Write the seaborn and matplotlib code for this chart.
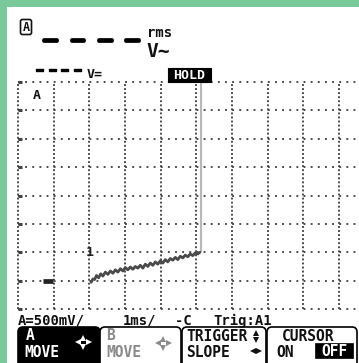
import matplotlib
matplotlib.use("Agg")
import matplotlib.pyplot as plt
import seaborn as sns
import pandas as pd
from matplotlib.patches import Rectangle, FancyBboxPatch
import matplotlib.patheffects as pe

# ---------------- data ----------------
TIME_DIVS = [-2, -1, 0, 1, 2, 3, 4, 5, 6, 7]            # ms (1 ms/div)
VOLT_DIVS = [-0.5, 0.0, 0.5, 1.0, 1.5, 2.0, 2.5, 3.0, 3.5]  # V (500 mV/div)
TRACE_T = [0.05, 0.10, 0.15, 0.20, 0.26, 0.32, 0.38, 0.45, 0.52, 0.59, 0.66,
           0.73, 0.80, 0.87, 0.94, 1.01, 1.08, 1.15, 1.22, 1.29, 1.36, 1.43,
           1.50, 1.57, 1.64, 1.71, 1.78, 1.85, 1.92, 1.99, 2.06, 2.13, 2.20,
           2.27, 2.34, 2.41, 2.48, 2.55, 2.62, 2.69, 2.76, 2.83, 2.90, 2.97,
           3.04, 3.10]
TRACE_V = [-0.03, 0.03, 0.02, 0.09, 0.05, 0.12, 0.08, 0.15, 0.11, 0.17, 0.13,
           0.19, 0.15, 0.21, 0.17, 0.23, 0.19, 0.24, 0.20, 0.25, 0.22, 0.27,
           0.22, 0.29, 0.25, 0.31, 0.27, 0.33, 0.29, 0.35, 0.31, 0.37, 0.33,
           0.39, 0.36, 0.41, 0.37, 0.43, 0.40, 0.45, 0.42, 0.47, 0.44, 0.49,
           0.47, 0.50]
CURSOR_T = 3.12
GROUND_T = -1.15
TRIG_T, TRIG_V = 0.0, 0.5
BOTTOM_LABELS = ["A=500mV/", "1ms/", "-C", "Trig:A1"]

# ---------------- style ----------------
sns.set_style("white")
plt.rcParams["font.family"] = ["DejaVu Sans"]
plt.rcParams["lines.scale_dashes"] = False
MONO = "DejaVu Sans Mono"
GREEN = "#7ac99b"
GRID = "#444444"

W, H = 359, 363
fig = plt.figure(figsize=(W / 100, H / 100), dpi=100)
fig.patch.set_facecolor("white")

# scope screen axes (x: 18..359 px, y: 82..309 px)
ax = fig.add_axes([18 / W, (H - 309) / H, 341 / W, 227 / H])
ax.set_xlim(-2, -2 + 341 / 35.67)
ax.set_ylim(-0.5, 3.5)
ax.set_axis_off()

for t in TIME_DIVS:
    ax.axvline(t, color=GRID, lw=1.35, ls=(0, (1.35, 1.57)), clip_on=False, zorder=1)
for v in VOLT_DIVS:
    ax.axhline(v, color=GRID, lw=1.35, ls=(0, (1.35, 3.79)), clip_on=False, zorder=1)
    ax.hlines(v, -2, -1.88, color=GRID, lw=2.2, clip_on=False, zorder=1)

# cursor line
ax.vlines(CURSOR_T, 0.5, 3.5, color="#b8b8b8", lw=1.6, zorder=2)

df = pd.DataFrame({"t": TRACE_T, "v": TRACE_V})
sns.lineplot(data=df, x="t", y="v", ax=ax, color="#4a4a4a", lw=2.0,
             sort=False, estimator=None, zorder=3)
ax.set_xlabel("")
ax.set_ylabel("")

# ground marker and trigger marker
ax.plot([GROUND_T], [0], marker="_", ms=7, mew=3.4, color="#222222", clip_on=False)
ax.text(TRIG_T, TRIG_V, "1", family=MONO, weight="bold", fontsize=9.5,
        ha="center", va="center", color="#222222", zorder=4)

# ---------------- overlay in pixel coords ----------------
ov = fig.add_axes([0, 0, 1, 1])
ov.set_xlim(0, W)
ov.set_ylim(H, 0)
ov.set_axis_off()

# green border (top and left)
ov.add_patch(Rectangle((0, 0), W, 6.5, color=GREEN, lw=0))
ov.add_patch(Rectangle((0, 0), 7, H, color=GREEN, lw=0))

# boxed A
ov.add_patch(FancyBboxPatch((20.5, 19.5), 11, 15, boxstyle="round,pad=0,rounding_size=2",
                            fc="white", ec="#111111", lw=1.2))
ov.text(26, 27.5, "A", family=MONO, weight="bold", fontsize=8.5,
        ha="center", va="center", color="#111111")

# big reading placeholder
ov.text(43.5, 40, "\u2014   \u2014   \u2014   \u2014", fontsize=10.1, ha="left", va="center",
        color="black", path_effects=[pe.withStroke(linewidth=2.7, foreground="black")])
ov.text(147, 37, "rms", family=MONO, weight="bold", fontsize=10, ha="left",
        va="baseline", color="#111111")
ov.text(146, 57, "V~", family=MONO, weight="bold", fontsize=14, ha="left",
        va="baseline", color="#111111")

# small reading placeholder
ov.text(35, 70, "\u2013\u2009\u2013\u2009\u2013\u2009\u2013", fontsize=13, ha="left", va="center",
        color="black", path_effects=[pe.withStroke(linewidth=1.0, foreground="black")])
ov.text(87, 78, "V=", family=MONO, weight="bold", fontsize=9.5, ha="left",
        va="baseline", color="#111111")

# HOLD badge
ov.add_patch(Rectangle((168, 68), 43, 14, fc="black", ec="black", lw=0.8))
ov.text(189.5, 75.5, "HOLD", family=MONO, weight="bold", fontsize=9.5,
        ha="center", va="center", color="white")

# channel label inside screen
ov.text(33, 99, "A", family=MONO, weight="bold", fontsize=9.5, ha="left",
        va="baseline", color="#111111")

# bottom status line
for lbl, x0 in zip(BOTTOM_LABELS, [18, 123, 175, 213]):
    ov.text(x0, 325, lbl, family=MONO, weight="bold", fontsize=10, ha="left",
            va="baseline", color="#111111")

# soft-key buttons
ov.add_patch(FancyBboxPatch((18, 327), 82, 50, boxstyle="round,pad=0,rounding_size=5",
                            fc="black", ec="black", lw=1.2))
ov.add_patch(FancyBboxPatch((100, 327), 81, 50, boxstyle="round,pad=0,rounding_size=5",
                            fc="white", ec="black", lw=1.2))
ov.add_patch(FancyBboxPatch((182, 327), 84, 50, boxstyle="round,pad=0,rounding_size=5",
                            fc="white", ec="black", lw=1.2))
ov.add_patch(FancyBboxPatch((267, 327), 90, 50, boxstyle="round,pad=0,rounding_size=5",
                            fc="white", ec="black", lw=1.2))

def btn_text(x, y, s, color):
    ov.text(x, y, s, family=MONO, weight="bold", fontsize=10.5, ha="left",
            va="baseline", color=color)

def move_icon(cx, cy, color):
    ov.plot([cx], [cy - 4.5], marker="^", ms=3.8, color=color, mew=0)
    ov.plot([cx], [cy + 4.5], marker="v", ms=3.8, color=color, mew=0)
    ov.plot([cx - 5.5], [cy], marker="<", ms=3.8, color=color, mew=0)
    ov.plot([cx + 5.5], [cy], marker=">", ms=3.8, color=color, mew=0)

btn_text(26, 340, "A", "white")
btn_text(24, 357, "MOVE", "white")
move_icon(83, 342, "white")

btn_text(106, 340, "B", "#8a8a8a")
btn_text(106, 357, "MOVE", "#8a8a8a")
move_icon(163, 343, "#8a8a8a")

btn_text(186, 341, "TRIGGER", "#111111")
ov.plot([256], [333], marker="^", ms=3.8, color="#111111", mew=0)
ov.plot([256], [339.5], marker="v", ms=3.8, color="#111111", mew=0)
btn_text(186, 357, "SLOPE", "#111111")
ov.plot([253], [351], marker="<", ms=4, color="#111111", mew=0)
ov.plot([259], [351], marker=">", ms=4, color="#111111", mew=0)

btn_text(282, 341, "CURSOR", "#111111")
btn_text(276, 357, "ON", "#111111")
ov.add_patch(Rectangle((315, 343), 38, 15, fc="black", ec="black", lw=0.5))
ov.text(334, 351, "OFF", family=MONO, weight="bold", fontsize=10.5, ha="center",
        va="center", color="white")

fig.savefig("out.png", dpi=100, facecolor="white")
